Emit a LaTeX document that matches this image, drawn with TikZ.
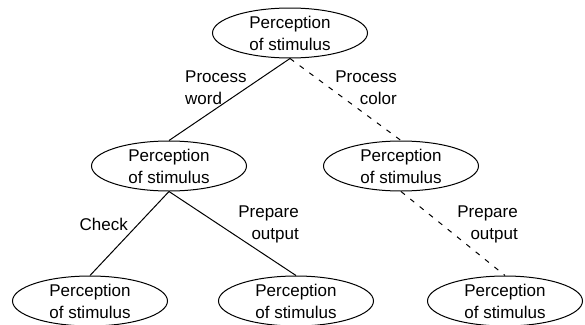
\documentclass[tikz,border=0pt]{standalone}
\usepackage{fontspec}
\setmainfont{Liberation Sans}
\usetikzlibrary{shapes.geometric}

\begin{document}
\begin{tikzpicture}[x=1pt,y=-1pt,
  state/.style={draw,ellipse,line width=1pt,minimum width=155pt,minimum height=50pt,inner sep=0pt,align=center,font=\fontsize{17}{22}\selectfont},
  lbl/.style={inner sep=0pt,font=\fontsize{17}{22}\selectfont}]
\useasboundingbox (0,0) rectangle (585,324);

\node[state] (perc-top) at (290,33) {Perception\\of stimulus};
\node[state] (perc-word) at (169,166) {Perception\\of stimulus};
\node[state] (perc-color) at (401,166) {Perception\\of stimulus};
\node[state] (perc-check) at (90,301) {Perception\\of stimulus};
\node[state] (perc-output) at (296,301) {Perception\\of stimulus};
\node[state] (perc-color-output) at (505,301) {Perception\\of stimulus};

\draw[line width=1pt] (perc-top.south) -- (perc-word.north);
\draw[line width=1pt,dash pattern=on 5pt off 7pt] (perc-top.south) -- (perc-color.north);
\draw[line width=1pt] (perc-word.south) -- (perc-check.north);
\draw[line width=1pt] (perc-word.south) -- (perc-output.north);
\draw[line width=1pt,dash pattern=on 5pt off 7pt] (perc-color.south) -- (perc-color-output.north);

\node[lbl,anchor=west,align=left] (lbl-word) at (185,88) {Process\\word};
\node[lbl,anchor=east,align=right] (lbl-color) at (397,88) {Process\\color};
\node[lbl,anchor=east] (lbl-check) at (128,224) {Check};
\node[lbl,anchor=east,align=right] (lbl-output) at (299,224) {Prepare\\output};
\node[lbl,anchor=east,align=right] (lbl-color-output) at (518,224) {Prepare\\output};
\end{tikzpicture}
\end{document}
